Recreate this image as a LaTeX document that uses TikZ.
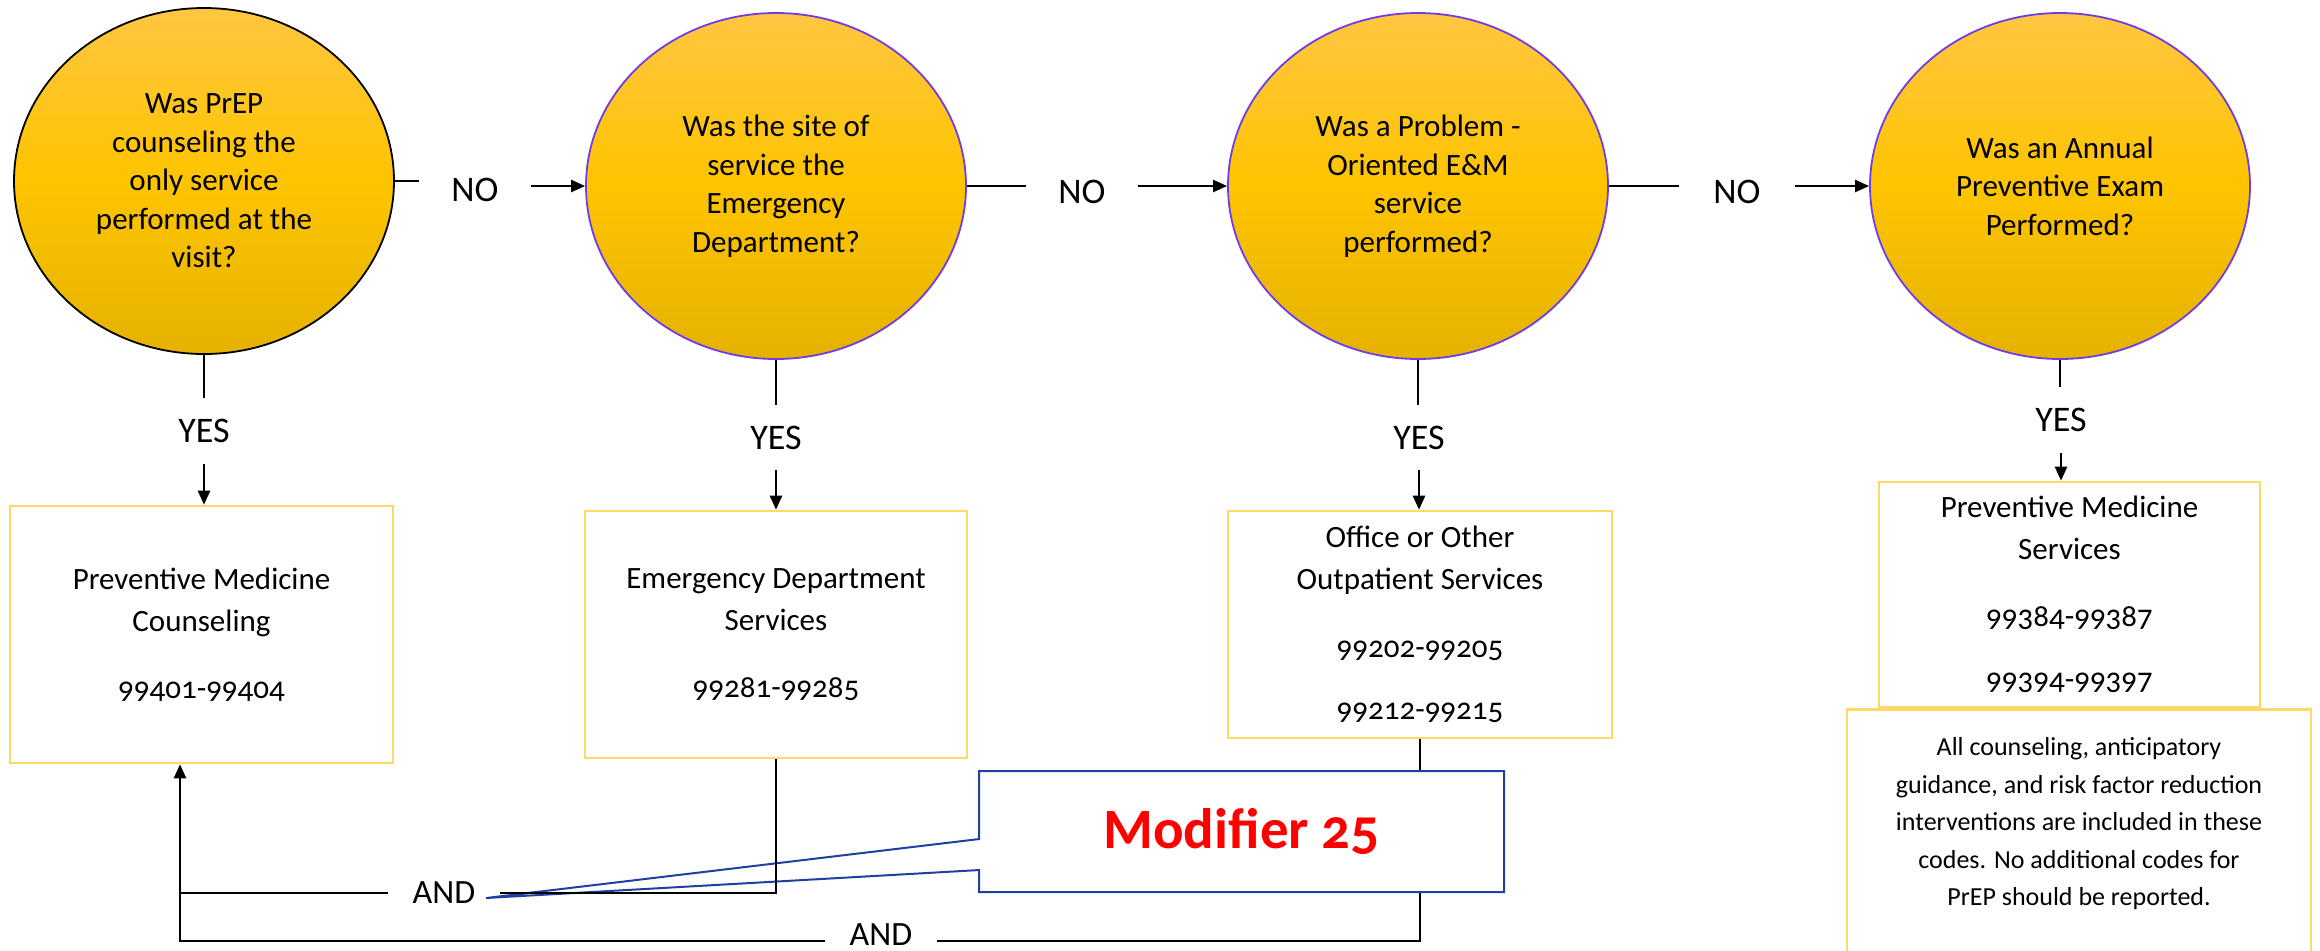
\documentclass[tikz,border=0pt]{standalone}
\usepackage{fontspec}
\setmainfont{Carlito}[Numbers=OldStyle]
\usepackage{tikz}
\usetikzlibrary{shapes.geometric, shapes.callouts, arrows.meta}
\definecolor{goldtop}{RGB}{255,198,66}
\definecolor{goldmid}{RGB}{254,196,0}
\definecolor{goldbot}{RGB}{228,178,0}
\definecolor{violetline}{RGB}{112,60,230}
\definecolor{boxyellow}{RGB}{255,217,102}
\definecolor{calloutblue}{RGB}{32,64,160}

\begin{document}
\begin{tikzpicture}[x=0.5pt, y=-0.5pt,
    question/.style={ellipse, draw=violetline, line width=0.9pt, top color=goldtop, bottom color=goldbot, middle color=goldmid,
        minimum width=190pt, minimum height=173pt, inner sep=0pt, align=center, font=\fontsize{15.5}{19.25}\selectfont},
    codebox/.style={rectangle, draw=boxyellow, line width=1.3pt, align=center, inner sep=0pt, font=\fontsize{15.5}{21}\selectfont},
    answer/.style={inner sep=0pt, minimum height=32.5pt, minimum width=56pt, font=\fontsize{18}{20}\selectfont},
    andlabel/.style={inner sep=0pt, minimum width=56pt, minimum height=20pt, font=\fontsize{17}{20}\selectfont},
    flow/.style={line width=1.2pt},
    flowarrow/.style={flow, -{Triangle[length=7pt,width=6pt]}}]
    \useasboundingbox (0,0) rectangle (2320,950);

    \node[question, draw=black] (q1) at (204,181) {Was PrEP\\counseling the\\only service\\performed at the\\visit?};
    \node[question] (q2) at (776,186) {Was the site of\\service the\\Emergency\\Department?};
    \node[question] (q3) at (1418,186) {Was a Problem -\\Oriented E\&M\\service\\performed?};
    \node[question] (q4) at (2060,186) {Was an Annual\\Preventive Exam\\Performed?};

    \node[answer] (no1) at (475,190) {NO};
    \node[answer] (no2) at (1082,192) {NO};
    \node[answer, minimum width=58pt] (no3) at (1737,192) {NO};
    \node[answer] (yes1) at (204,431) {YES};
    \node[answer] (yes2) at (776,437.5) {YES};
    \node[answer] (yes3) at (1419,437.5) {YES};
    \node[answer] (yes4) at (2061,420) {YES};

    \node[codebox, minimum width=191.5pt, minimum height=128.5pt] (counsel) at (201.5,634.5) {Preventive Medicine\\Counseling\\[12.5pt]99401-99404};
    \node[codebox, minimum width=191pt, minimum height=123.5pt] (edserv) at (776,634.5) {Emergency Department\\Services\\[12.5pt]99281-99285};
    \node[codebox, minimum width=192pt, minimum height=113.5pt] (office) at (1420,624.5) {Office or Other\\Outpatient Services\\[13pt]99202-99205\\[10pt]99212-99215};
    \node[codebox, minimum width=190.5pt, minimum height=112.5pt] (prevsvc) at (2069.5,594.5) {Preventive Medicine\\Services\\[12.5pt]99384-99387\\[10.5pt]99394-99397};
    \node[codebox, minimum width=232pt, minimum height=140pt, anchor=north] (notebox) at (2079,708) {};
    \node[align=center, inner sep=0pt, font=\fontsize{13}{18.75}\selectfont] (notetxt) at (2079,824) {All counseling, anticipatory\\guidance, and risk factor reduction\\interventions are included in these\\codes. No additional codes for\\PrEP should be reported.};

    \draw[flow] (q1.east) -- (q1.east -| no1.west);
    \draw[flowarrow] (q2.west -| no1.east) -- (q2.west);
    \draw[flow] (q2.east) -- (q2.east -| no2.west);
    \draw[flowarrow] (q3.west -| no2.east) -- (q3.west);
    \draw[flow] (q3.east) -- (q3.east -| no3.west);
    \draw[flowarrow] (q4.west -| no3.east) -- (q4.west);

    \draw[flow] (q1.south) -- (q1.south |- yes1.north);
    \draw[flowarrow] (yes1.south) -- (yes1.south |- counsel.north);
    \draw[flow] (q2.south) -- (q2.south |- yes2.north);
    \draw[flowarrow] (yes2.south) -- (yes2.south |- edserv.north);
    \draw[flow] (q3.south) -- (q3.south |- yes3.north);
    \draw[flowarrow] (yes3.south) -- (yes3.south |- office.north);
    \draw[flow] (q4.south) -- (q4.south |- yes4.north);
    \draw[flowarrow] (yes4.south) -- (yes4.south |- prevsvc.north);

    \node[andlabel] (and1) at (444,893) {AND};
    \node[andlabel, text depth=6pt] (and2) at (881,941) {AND};
    \coordinate (andjoin) at (180,893);
    \coordinate (modtip) at (486,898);

    \draw[flow] (office.south) |- (and2.east);
    \node[rectangle callout, draw=calloutblue, line width=1pt, fill=white, minimum width=262.5pt, minimum height=60.5pt,
        callout absolute pointer={(modtip)}, callout pointer width=15.5pt, text=red,
        font=\bfseries\fontsize{28.5}{30}\selectfont] (modifier) at (1241.5,831.5) {Modifier 25};
    \draw[flow] (edserv.south) |- (and1.east);
    \draw[flow] (and1.west) -- (andjoin);
    \draw[flowarrow] (and2.west) -| (counsel.south -| andjoin);
\end{tikzpicture}
\end{document}
